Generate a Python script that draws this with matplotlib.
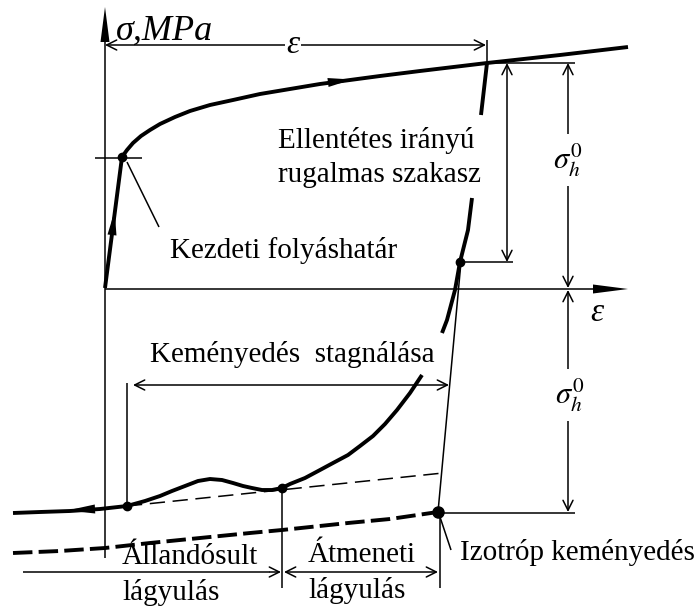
import matplotlib
matplotlib.use('Agg')
import matplotlib.pyplot as plt
import numpy as np

plt.rcParams['font.family'] = ['Liberation Serif', 'DejaVu Serif']
plt.rcParams['mathtext.fontset'] = 'stix'

nan = np.nan

# curve points, drawing units (x right, y down)
load_x = [105, 122, 127, 133, 141, 150, 160, 175, 190, 210, 233, 260, 290, 320,
          350, 380, 420, 487, 560, 628]
load_y = [288, 157, 150, 143, 136, 130, 124, 117, 111, 105, 100, 94, 89, 84,
          80, 76, 71, 63, 55, 47]

# reverse loading branch, broken where the labels sit
rev_x = [487, 481, nan, 472, 468, 460, 455, 447, 442, nan, 422, 410, 397, 385,
         373, 360, 348, 333, 320, 305, 290, 282]
rev_y = [63, 115, nan, 198, 230, 262, 290, 320, 333, nan, 375, 393, 410, 424,
         436, 446, 455, 463, 470, 478, 484, 488]

soft_x = [282, 272, 262, 252, 243, 233, 222, 210, 198, 185, 172, 160, 145, 127,
          100, 70, 40, 13]
soft_y = [488, 490, 490, 488, 486, 483, 480, 479, 481, 486, 491, 496, 501, 506,
          509, 511, 512, 513]

iso_x = [13, 60, 105, 150, 200, 250, 282, 348, 390, 438]
iso_y = [553, 551, 548, 543, 538, 533, 530, 523, 519, 512]

trend_x = [127, 443]
trend_y = [506, 473]

iso_line_x = [461, 438]
iso_line_y = [262, 512]

dots_x = [122, 460, 127, 282]
dots_y = [157, 262, 506, 488]

THICK = 2.8
THIN = 1.1

fig = plt.figure(figsize=(6.94, 6.06), dpi=100)
ax = fig.add_axes([0, 0, 1, 1])
ax.set_xlim(0, 694)
ax.set_ylim(606, 0)
ax.axis('off')


def head(tip, base, w):
    tip = np.array(tip, float)
    base = np.array(base, float)
    d = tip - base
    n = np.array([-d[1], d[0]]) / np.hypot(*d) * w
    pts = np.array([tip, base + n, base - n])
    ax.fill(pts[:, 0], pts[:, 1], color='k', lw=0, zorder=5)


def dim(p0, p1, both=True):
    style = '<->' if both else '->'
    ax.annotate('', xy=p1, xytext=p0,
                arrowprops=dict(arrowstyle=style, lw=THIN, color='k',
                                shrinkA=0, shrinkB=0, mutation_scale=18))


def line(xs, ys, lw=THIN, **kw):
    ax.plot(xs, ys, color='k', lw=lw, solid_capstyle='butt',
            solid_joinstyle='round', **kw)


# axes
line([105, 105], [558, 40])
head((105, 7), (105, 42), 4.5)
line([105, 595], [289, 289])
head((628, 289), (593, 289), 4.5)

# curves
line(load_x, load_y, THICK)
head((114.7, 211), (112.0, 235), 4.5)
head((352, 79.5), (328, 82.5), 4.5)
line(rev_x, rev_y, THICK)
line(soft_x, soft_y, THICK)
head((67, 510.5), (95, 509), 4.5)
line(iso_x, iso_y, THICK, linestyle=(0, (5, 1.6)))
line(trend_x, trend_y, THIN, linestyle=(0, (10, 5)))
line(iso_line_x, iso_line_y, THIN)
ax.plot(dots_x, dots_y, 'o', color='k', ms=6, zorder=6)
ax.plot([438], [512], 'o', color='k', ms=8, zorder=6)

# yield mark and leaders
line([95, 142], [158, 158])
line([127, 159], [162, 227])
line([440, 451], [517, 550])

# strain span at the top
dim((105, 45), (486, 45))
line([487, 487], [40, 63])
ax.text(293, 45, 'ε', fontsize=24, style='italic', ha='center', va='center',
        bbox=dict(fc='white', ec='none', pad=1))

# reference lines for the stress spans
line([487, 575], [63, 63])
line([460, 513], [262, 262])
line([438, 575], [513, 513])
dim((507, 63), (507, 262))
dim((568, 63), (568, 288))
dim((568, 290), (568, 512))
ax.text(568, 160, r'$\sigma_h^0$', fontsize=22, ha='center', va='center',
        bbox=dict(fc='white', ec='none', pad=5))
ax.text(570, 395, r'$\sigma_h^0$', fontsize=22, ha='center', va='center',
        bbox=dict(fc='white', ec='none', pad=5))
ax.text(597, 313, 'ε', fontsize=24, style='italic', ha='center', va='center')

# stagnation span
dim((133, 385), (449, 385))
line([127, 127], [383, 506])

# softening spans at the bottom
line([23, 270], [572, 572])
dim((270, 572), (281, 572), both=False)
dim((284, 572), (438, 572))
line([282, 282], [488, 588])
line([440, 440], [512, 588])

# labels
FS = 21
ax.text(116, 31, 'σ,MPa', fontsize=26, style='italic', ha='left', va='center')
ax.text(278, 140, 'Ellentétes irányú', fontsize=FS, ha='left', va='center')
ax.text(278, 175, 'rugalmas szakasz', fontsize=FS, ha='left', va='center')
ax.text(170, 250, 'Kezdeti folyáshatár', fontsize=FS, ha='left', va='center')
ax.text(150, 355, 'Keményedés  stagnálása', fontsize=FS, ha='left', va='center')
ax.text(122, 557, 'Állandósult', fontsize=FS, ha='left', va='center')
ax.text(122, 593, 'lágyulás', fontsize=FS, ha='left', va='center')
ax.text(308, 555, 'Átmeneti', fontsize=FS, ha='left', va='center')
ax.text(308, 591, 'lágyulás', fontsize=FS, ha='left', va='center')
ax.text(460, 553, 'Izotróp keményedés', fontsize=FS, ha='left', va='center')

fig.savefig('out.png', dpi=100)
